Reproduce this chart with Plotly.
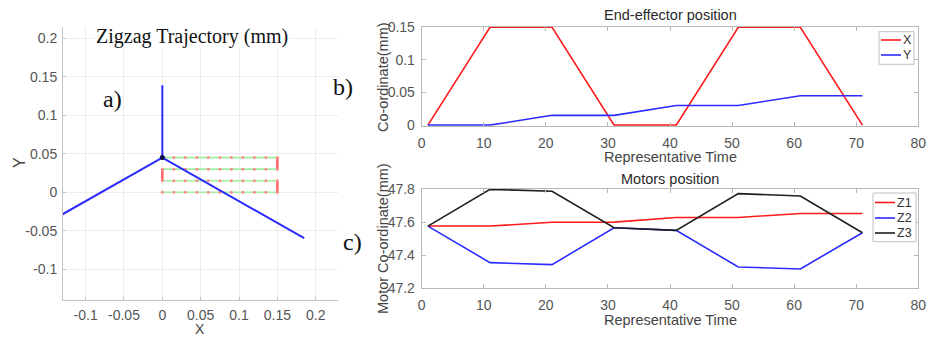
import plotly.graph_objects as go

W, H = 933, 337

# ---------------- data ----------------
# panel a: robot arms (projection) and zigzag trajectory
arm_x = [-0.185, 0.0, 0.185]
arm_y = [-0.0597, 0.045, -0.0597]
mast_x = [0.0, 0.0]
mast_y = [0.045, 0.139]
joint_x = [0.0]
joint_y = [0.045]
dot_x = [0.0, 0.015, 0.03, 0.045, 0.06, 0.075, 0.09, 0.105, 0.12, 0.135, 0.15]
row_y = [0.0, 0.015, 0.03, 0.045]

# panel b: end-effector position
time = [1, 11, 21, 31, 41, 51, 61, 71]
ee_x = [0.0, 0.15, 0.15, 0.0, 0.0, 0.15, 0.15, 0.0]
ee_y = [0.0, 0.0, 0.015, 0.015, 0.03, 0.03, 0.045, 0.045]
ee_names = ["X", "Y"]

# panel c: motors position
z1 = [47.576, 47.576, 47.599, 47.600, 47.628, 47.628, 47.652, 47.652]
z2 = [47.576, 47.355, 47.343, 47.566, 47.550, 47.329, 47.317, 47.536]
z3 = [47.576, 47.798, 47.786, 47.566, 47.550, 47.772, 47.758, 47.536]
motor_names = ["Z1", "Z2", "Z3"]

a_ticks = [-0.1, -0.05, 0, 0.05, 0.1, 0.15, 0.2]
a_ticktext = ["-0.1", "-0.05", "0", "0.05", "0.1", "0.15", "0.2"]
b_yticks = [0, 0.05, 0.1, 0.15]
b_yticktext = ["0", "0.05", "0.1", "0.15"]
c_yticks = [47.2, 47.4, 47.6, 47.8]
c_yticktext = ["47.2", "47.4", "47.6", "47.8"]
t_ticks = [0, 10, 20, 30, 40, 50, 60, 70, 80]

# ---------------- helpers ----------------
def px(x):
    return x / W

def py(y):
    return 1 - y / H

RED = "#ff1a1a"
BLUE = "#2b2bff"
BLACK = "#1f1f1f"
SANS = "Liberation Sans, Arial, sans-serif"
SERIF = "Liberation Serif, Times New Roman, serif"
TICKC = "#555555"
LINEC = "#b8b8b8"

fig = go.Figure()

# ---- panel a ----
for i in range(len(ee_x) - 1):
    xs = [ee_x[i], ee_x[i + 1]]
    ys = [ee_y[i], ee_y[i + 1]]
    horizontal = ys[0] == ys[1]
    fig.add_trace(go.Scatter(
        x=xs, y=ys, mode="lines", xaxis="x", yaxis="y",
        line=dict(color="#9ef09e" if horizontal else "#ff6a6a",
                  width=1.6 if horizontal else 2.6),
        showlegend=False, hoverinfo="skip"))
for yv in row_y:
    fig.add_trace(go.Scatter(
        x=dot_x, y=[yv] * len(dot_x), mode="markers", xaxis="x", yaxis="y",
        marker=dict(color="#ff8a8a", size=3), showlegend=False, hoverinfo="skip"))
fig.add_trace(go.Scatter(x=arm_x, y=arm_y, mode="lines", xaxis="x", yaxis="y",
                         line=dict(color=BLUE, width=2), showlegend=False))
fig.add_trace(go.Scatter(x=mast_x, y=mast_y, mode="lines", xaxis="x", yaxis="y",
                         line=dict(color=BLUE, width=2), showlegend=False))
fig.add_trace(go.Scatter(x=joint_x, y=joint_y, mode="markers", xaxis="x", yaxis="y",
                         marker=dict(color="#0a0a40", size=5), showlegend=False))

# ---- panel b ----
fig.add_trace(go.Scatter(x=time, y=ee_x, mode="lines", xaxis="x2", yaxis="y2",
                         line=dict(color=RED, width=1.6), name=ee_names[0], showlegend=False))
fig.add_trace(go.Scatter(x=time, y=ee_y, mode="lines", xaxis="x2", yaxis="y2",
                         line=dict(color=BLUE, width=1.6), name=ee_names[1], showlegend=False))

# ---- panel c ----
for vals, col, nm in zip([z1, z2, z3], [RED, BLUE, BLACK], motor_names):
    fig.add_trace(go.Scatter(x=time, y=vals, mode="lines", xaxis="x3", yaxis="y3",
                             line=dict(color=col, width=1.6), name=nm, showlegend=False))

tickfont = dict(family=SANS, size=14, color=TICKC)

box_axis = dict(showline=True, linecolor=LINEC, linewidth=1, mirror="ticks",
                ticks="inside", ticklen=4, tickcolor=LINEC, showgrid=False,
                zeroline=False, tickfont=tickfont, automargin=False)

a_axis = dict(showgrid=True, gridcolor="#ededed", showline=True, linecolor="#c4c4c4",
              ticks="inside", ticklen=3, tickcolor="#c4c4c4", zeroline=False,
              tickfont=tickfont, automargin=False)

fig.update_layout(
    template="none",
    width=W, height=H, margin=dict(l=0, r=0, t=0, b=0, pad=0), autosize=False,
    paper_bgcolor="white", plot_bgcolor="white", showlegend=False,
    xaxis=dict(domain=[px(63), px(337.7)], anchor="y", range=[-0.1295, 0.2287],
               tickvals=a_ticks, ticktext=a_ticktext, ticklabelstandoff=2, **a_axis),
    yaxis=dict(domain=[py(300), py(27)], anchor="x", range=[-0.14, 0.2147],
               tickvals=a_ticks, ticktext=a_ticktext, ticklabelstandoff=2, **a_axis),
    xaxis2=dict(domain=[px(421.7), px(918.3)], anchor="y2", range=[0, 80],
                tickvals=t_ticks, ticklabelstandoff=4, **box_axis),
    yaxis2=dict(domain=[py(125.7), py(26.7)], anchor="x2", range=[-0.0009, 0.1509],
                tickvals=b_yticks, ticktext=b_yticktext, ticklabelstandoff=3, **box_axis),
    xaxis3=dict(domain=[px(421.7), px(918.3)], anchor="y3", range=[0, 80],
                tickvals=t_ticks, ticklabelstandoff=4, **box_axis),
    yaxis3=dict(domain=[py(288.3), py(189)], anchor="x3", range=[47.2, 47.8],
                tickvals=c_yticks, ticktext=c_yticktext, ticklabelstandoff=3, **box_axis),
)

ann = []
def text(x, y, s, size, color="#333333", family=SANS, angle=0, bg=None,
         xanchor="center", pad=1):
    d = dict(x=px(x), y=py(y), xref="paper", yref="paper", text=s, showarrow=False,
             font=dict(family=family, size=size, color=color), textangle=angle,
             xanchor=xanchor, yanchor="middle", borderpad=pad)
    if bg:
        d["bgcolor"] = bg
    ann.append(d)

# panel a texts
text(192, 36, "Zigzag Trajectory (mm)", 20, color="#111111", family=SERIF, bg="white")
text(112, 99, "a)", 24, color="#111111", family=SERIF)
text(20, 163, "Y", 16, color="#444444", angle=-90)
text(200, 329, "X", 14, color="#444444", pad=0)

# panel labels b), c)
text(343, 87, "b)", 24, color="#111111", family=SERIF)
text(352, 242, "c)", 24, color="#111111", family=SERIF)

# panel b texts
text(670, 15, "End-effector position", 14.5, color="#2a2a2a")
text(670, 157, "Representative Time", 14.5, color="#444444")
text(383, 77, "Co-ordinate(mm)", 14.5, color="#444444", angle=-90)

# panel c texts
text(670, 179, "Motors position", 14.5, color="#2a2a2a")
text(670, 320, "Representative Time", 14.5, color="#444444")
text(383, 239, "Motor Co-ordinate(mm)", 14.5, color="#444444", angle=-90)

shapes = []
def legend(x0, x1, y0, y1, names, colors, rows, lx0, lx1):
    shapes.append(dict(type="rect", xref="paper", yref="paper",
                       x0=px(x0), x1=px(x1), y0=py(y1), y1=py(y0),
                       line=dict(color="#c0c0c0", width=1), fillcolor="white", layer="above"))
    for nm, col, ry in zip(names, colors, rows):
        shapes.append(dict(type="line", xref="paper", yref="paper",
                           x0=px(lx0), x1=px(lx1), y0=py(ry), y1=py(ry),
                           line=dict(color=col, width=1.6), layer="above"))
        text(lx1 + 0.5, ry, nm, 12.5, color="#333333", xanchor="left", pad=0)

legend(879, 914, 31.7, 64.3, ee_names, [RED, BLUE], [40, 55], 881, 901)
legend(873, 916, 193, 241.7, motor_names, [RED, BLUE, BLACK], [202.5, 218, 233], 875, 895)

fig.update_layout(annotations=ann, shapes=shapes)
fig.write_html("out.html", config={"displayModeBar": False, "responsive": False},
               post_script="document.body.style.margin='0';document.body.style.padding='0';"
                           "document.body.style.overflow='hidden';")
